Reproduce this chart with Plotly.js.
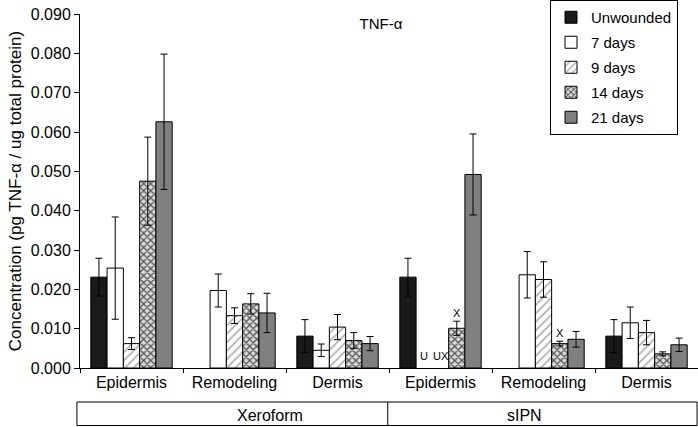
<!DOCTYPE html>
<html>
<head>
<meta charset="utf-8">
<script src="https://cdn.plot.ly/plotly-3.0.1.min.js"></script>
<style>html,body{margin:0;padding:0;background:#fff;}#chart{width:698px;height:427px;}</style>
</head>
<body>
<div id="chart"></div>
<script>
// ---- data ----
var groups = ["Xeroform", "Xeroform", "Xeroform", "sIPN", "sIPN", "sIPN"];
var regions = ["Epidermis", "Remodeling", "Dermis", "Epidermis", "Remodeling", "Dermis"];
var seriesNames = ["Unwounded", "7 days", "9 days", "14 days", "21 days"];

var unwounded    = [0.0231, null,   0.0081, 0.0231, null,   0.0081];
var unwoundedErr = [0.0048, 0,      0.0042, 0.0048, 0,      0.0042];
var days7        = [0.0254, 0.0197, 0.0045, null,   0.0237, 0.0115];
var days7Err     = [0.0130, 0.0042, 0.0016, 0,      0.0059, 0.0040];
var days9        = [0.0062, 0.0133, 0.0104, null,   0.0225, 0.0090];
var days9Err     = [0.0015, 0.0020, 0.0032, 0,      0.0045, 0.0031];
var days14       = [0.0475, 0.0163, 0.0070, 0.0101, 0.0062, 0.0036];
var days14Err    = [0.0112, 0.0026, 0.0020, 0.0018, 0.0006, 0.0005];
var days21       = [0.0626, 0.0140, 0.0062, 0.0492, 0.0073, 0.0059];
var days21Err    = [0.0172, 0.0050, 0.0018, 0.0103, 0.0020, 0.0017];

var yTickVals = [0, 0.01, 0.02, 0.03, 0.04, 0.05, 0.06, 0.07, 0.08, 0.09];

// significance marks: category index, series index, text
var sigCat    = [3, 3, 3, 4];
var sigSeries = [1, 2, 3, 3];
var sigText   = ["U", "UX", "X", "X"];

// ---- build ----
var keys = groups.map(function (g, i) { return g + " " + regions[i]; });
var values = [unwounded, days7, days9, days14, days21];
var errs = [unwoundedErr, days7Err, days9Err, days14Err, days21Err];

var styles = [
  {color: "#1a1a1a"},
  {color: "#ffffff"},
  {color: "#ffffff", pattern: {shape: "/", fgcolor: "#b0b0b0", bgcolor: "#ffffff", size: 6, solidity: 0.3}},
  {color: "#9a9a9a", pattern: {shape: "x", fgcolor: "#555555", bgcolor: "#dcdcdc", size: 5, solidity: 0.45}},
  {color: "#808080"}
];

var traces = seriesNames.map(function (name, s) {
  var m = {color: styles[s].color, line: {color: "#000", width: 1}};
  if (styles[s].pattern) m.pattern = styles[s].pattern;
  return {
    type: "bar",
    name: name,
    legendgroup: name,
    x: keys,
    y: values[s],
    marker: m,
    error_y: {type: "data", array: errs[s], visible: true, color: "#000", thickness: 1, width: 3.5},
    hoverinfo: "none"
  };
});

var fontFam = "Liberation Sans, Arial, sans-serif";
var W = 698, H = 427, mL = 80, mR = 0, mT = 14, mB = 59;
var bargap = 0.21;
var plotW = W - mL - mR, plotH = H - mT - mB;
var axisY = H - mB;
var barPx = plotW / keys.length * (1 - bargap) / seriesNames.length;

var annotations = sigText.map(function (t, k) {
  var c = sigCat[k], s = sigSeries[k];
  var v = values[s][c];
  var base = (v === null) ? 0 : v + errs[s][c];
  return {
    x: keys[c], y: base, xref: "x", yref: "y",
    text: t, showarrow: false,
    xshift: (s - 2) * barPx,
    yanchor: "bottom", yshift: (v === null) ? 4 : 0,
    font: {family: fontFam, size: 11, color: "#000"}
  };
});
// group labels
var groupNames = [];
groups.forEach(function (g) { if (groupNames.indexOf(g) < 0) groupNames.push(g); });
groupNames.forEach(function (g, i) {
  annotations.push({
    x: (i + 0.5) / groupNames.length, y: (axisY - 415.7) / plotH,
    xref: "paper", yref: "paper", text: g, showarrow: false,
    yanchor: "middle", font: {family: fontFam, size: 16, color: "#000"}
  });
});

var boxY0 = (axisY - 425.5) / plotH, boxY1 = (axisY - 402) / plotH;
var shapes = [
  {type: "rect", xref: "paper", yref: "paper", x0: -0.005, x1: 0.9985, y0: boxY0, y1: boxY1,
   line: {color: "#000", width: 1}},
  {type: "line", xref: "paper", yref: "paper", x0: 0.498, x1: 0.498, y0: boxY0, y1: boxY1,
   line: {color: "#000", width: 1}}
];

var layout = {
  width: W, height: H,
  margin: {l: mL, r: mR, t: mT, b: mB, pad: 0},
  paper_bgcolor: "#fff", plot_bgcolor: "#fff",
  font: {family: fontFam, size: 16, color: "#000"},
  barmode: "group", bargap: bargap, bargroupgap: 0,
  title: {text: "TNF-\u03b1", x: 381 / W, xanchor: "center", y: 1 - 24 / H, yanchor: "middle", yref: "container",
          font: {family: fontFam, size: 15, color: "#000"}},
  xaxis: {
    type: "category", categoryorder: "array", categoryarray: keys,
    tickvals: keys, ticktext: regions, tickson: "boundaries",
    ticks: "outside", ticklen: 4, tickcolor: "#000", tickwidth: 1,
    showline: true, linecolor: "#000", linewidth: 1, showgrid: false, zeroline: false,
    tickfont: {family: fontFam, size: 16, color: "#000"},
    range: [-0.5, keys.length - 0.5]
  },
  yaxis: {
    range: [0, 0.09], tickvals: yTickVals, tickformat: ".3f",
    ticks: "outside", ticklen: 5, tickcolor: "#000",
    showline: true, linecolor: "#000", linewidth: 1, showgrid: false, zeroline: false,
    tickfont: {family: fontFam, size: 16, color: "#000"},
    title: {text: "Concentration (pg TNF-\u03b1 / ug total protein)", font: {family: fontFam, size: 17, color: "#000"}, standoff: 4}
  },
  legend: {
    x: (678 - mL) / plotW, xanchor: "right", y: 1 + mT / plotH, yanchor: "top",
    bordercolor: "#000", borderwidth: 1, bgcolor: "#fff",
    traceorder: "grouped", tracegroupgap: 2.5,
    font: {family: fontFam, size: 15, color: "#000"}
  },
  showlegend: true,
  annotations: annotations,
  shapes: shapes
};

Plotly.newPlot("chart", traces, layout, {staticPlot: true, displayModeBar: false});
</script>
</body>
</html>
